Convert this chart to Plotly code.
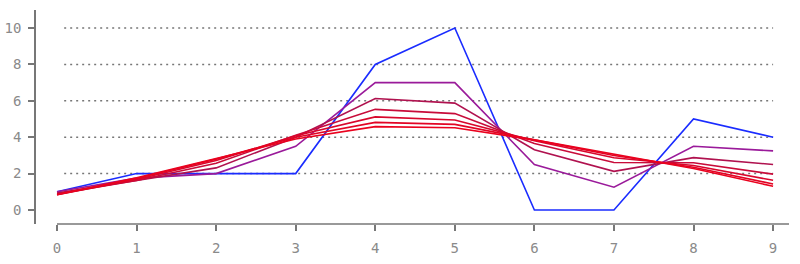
import plotly.graph_objects as go

x_vals = [0, 1, 2, 3, 4, 5, 6, 7, 8, 9]
series_0 = [1, 2, 2, 2, 8, 10, 0, 0, 5, 4]
series_1 = [1.0, 1.75, 2.0, 3.5, 7.0, 7.0, 2.5, 1.25, 3.5, 3.25]
series_2 = [0.938, 1.625, 2.313, 4.0, 6.125, 5.875, 3.313, 2.125, 2.875, 2.5]
series_3 = [0.875, 1.625, 2.563, 4.109, 5.531, 5.297, 3.656, 2.609, 2.594, 1.969]
series_4 = [0.844, 1.672, 2.715, 4.078, 5.117, 4.945, 3.805, 2.867, 2.441, 1.633]
series_5 = [0.840, 1.726, 2.795, 3.997, 4.814, 4.703, 3.855, 2.995, 2.346, 1.427]
series_6 = [0.851, 1.771, 2.828, 3.901, 4.582, 4.519, 3.852, 3.048, 2.278, 1.300]
y_ticks = [0, 2, 4, 6, 8, 10]
grid_levels = [2, 4, 6, 8, 10]

all_series = [series_0, series_1, series_2, series_3, series_4, series_5, series_6]
colors = ["#1a2cff", "#9a1a9a", "#b0124f", "#c80c3a", "#d8072c", "#e20424", "#ea021e"]

fig = go.Figure()
for ys, c in zip(all_series, colors):
    fig.add_trace(go.Scatter(x=x_vals, y=ys, mode="lines",
                             line=dict(color=c, width=1.6), showlegend=False,
                             hoverinfo="skip"))

shapes = []
for g in grid_levels:
    shapes.append(dict(type="line", xref="x", yref="y", x0=0.09, x1=9, y0=g, y1=g,
                       line=dict(color="#777", width=1.5, dash="2px,4px"), layer="below"))
# detached x axis line
shapes.append(dict(type="line", xref="paper", yref="paper",
                   x0=(57 - 36) / (789 - 36), x1=1, y0=0, y1=0,
                   line=dict(color="#777", width=1.5)))

tick_font = dict(family="DejaVu Sans Mono", size=14, color="#8a8a8a")

fig.update_layout(
    width=800, height=264,
    margin=dict(l=36, r=11, t=10, b=40),
    paper_bgcolor="white", plot_bgcolor="white",
    shapes=shapes,
    font=tick_font,
    xaxis=dict(range=[-0.264, 9.2], tickvals=x_vals, ticks="outside", ticklen=6,
               tickcolor="#777", tickwidth=1.5, showgrid=False, zeroline=False,
               showline=False, tickfont=tick_font, ticklabelstandoff=5,
               automargin=False),
    yaxis=dict(range=[-0.77, 10.99], tickvals=y_ticks, ticks="outside", ticklen=6,
               tickcolor="#777", tickwidth=1.5, showgrid=False, zeroline=False,
               showline=True, linecolor="#777", linewidth=1.5,
               tickfont=tick_font, ticklabelstandoff=4, automargin=False),
)

fig.write_html("out.html")
